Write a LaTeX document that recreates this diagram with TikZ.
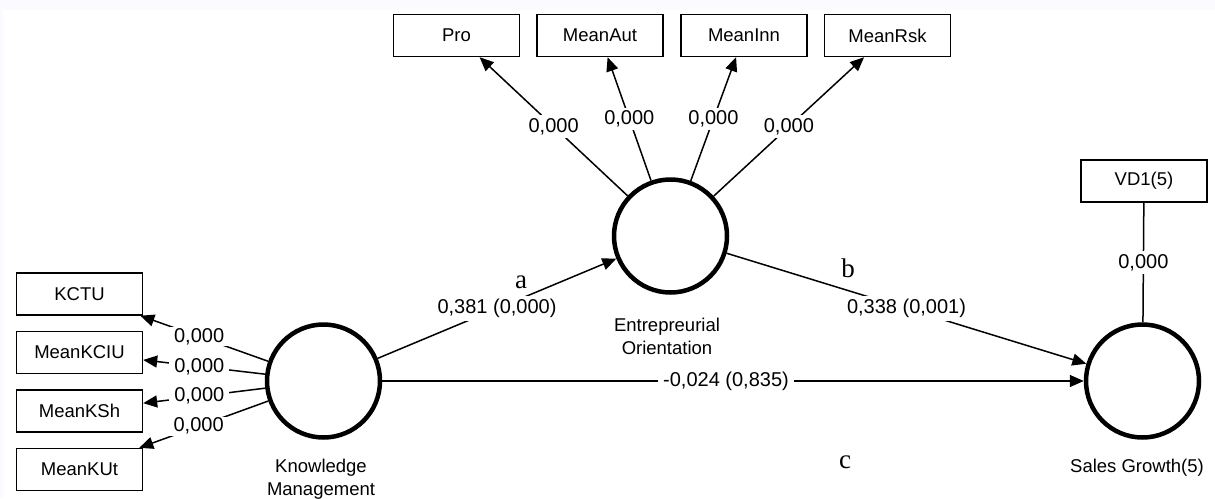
\documentclass[tikz,border=0pt]{standalone}
\usepackage{fontspec}
\setmainfont{Liberation Sans}
\newfontfamily\serifabc{Liberation Serif}
\usetikzlibrary{arrows.meta}
\begin{document}
\begin{tikzpicture}[x=1pt,y=-1pt,
  every node/.style={font=\fontsize{18.5}{23}\selectfont},
  ind/.style={draw, line width=1.4pt, minimum width=126pt, minimum height=42pt, inner sep=0pt},
  lv/.style={draw, circle, line width=4.5pt, minimum size=113pt, inner sep=0pt},
  conn/.style={line width=1.5pt, -{Triangle[length=14pt,width=12pt]}},
  plain/.style={line width=1.5pt},
  lbl/.style={fill=white, inner xsep=5pt, inner ysep=3pt, font=\fontsize{20}{23}\selectfont},
  lvname/.style={align=center, inner sep=0pt},
  abc/.style={font=\fontsize{27}{30}\selectfont\serifabc, inner sep=0pt}
]
\useasboundingbox (0,0) rectangle (1215,498);
\fill[blue!2] (0,0) rectangle (1215,10);
\fill[blue!2] (0,10) rectangle (3,498);
% indicators
\node[ind] (pro) at (456.5,35.5) {Pro};
\node[ind] (aut) at (600,35.5) {MeanAut};
\node[ind] (inn) at (744,35.5) {MeanInn};
\node[ind] (rsk) at (887.5,35.5) {MeanRsk};
\node[ind] (kctu) at (79.5,294) {KCTU};
\node[ind] (kciu) at (79.5,352.5) {MeanKCIU};
\node[ind] (ksh) at (79.5,411) {MeanKSh};
\node[ind] (kut) at (79.5,469.5) {MeanKUt};
\node[ind] (vd) at (1144,181) {VD1(5)};
% latent variables
\node[lv] (km) at (323.5,381) {};
\node[lv] (eo) at (670.5,236) {};
\node[lv] (sg) at (1142.5,381) {};
\node[lvname] (kmname) at (321,479) {Knowledge\\Management};
\node[lvname] (eoname) at (667,336.5) {Entrepreurial\\Orientation};
\node[lvname] (sgname) at (1137,468) {Sales Growth(5)};
% outer loadings
\draw[conn] (eo) -- node[lbl] {0,000} (pro);
\draw[conn] (eo) -- node[lbl] {0,000} (aut);
\draw[conn] (eo) -- node[lbl] {0,000} (inn);
\draw[conn] (eo) -- node[lbl] {0,000} (rsk);
\draw[conn] (km) -- node[lbl, pos=0.54, inner ysep=1pt] {0,000} (kctu);
\draw[conn] (km) -- node[lbl, pos=0.54, inner ysep=1pt] {0,000} (kciu);
\draw[conn] (km) -- node[lbl, pos=0.54, inner ysep=1pt] {0,000} (ksh);
\draw[conn] (km) -- node[lbl, pos=0.54, inner ysep=1pt] {0,000} (kut);
\draw[plain] (sg) -- node[lbl] {0,000} (vd);
% paths
\draw[conn] (km) -- node[lbl] {0,381 (0,000)} (eo);
\draw[conn] (eo) -- node[lbl] {0,338 (0,001)} (sg);
\draw[conn] (km) -- node[lbl, pos=0.49] {-0,024 (0,835)} (sg);
% path letters
\node[abc] (la) at (521,282) {a};
\node[abc] (lb) at (848,268) {b};
\node[abc] (lc) at (845,462) {c};
\end{tikzpicture}
\end{document}
